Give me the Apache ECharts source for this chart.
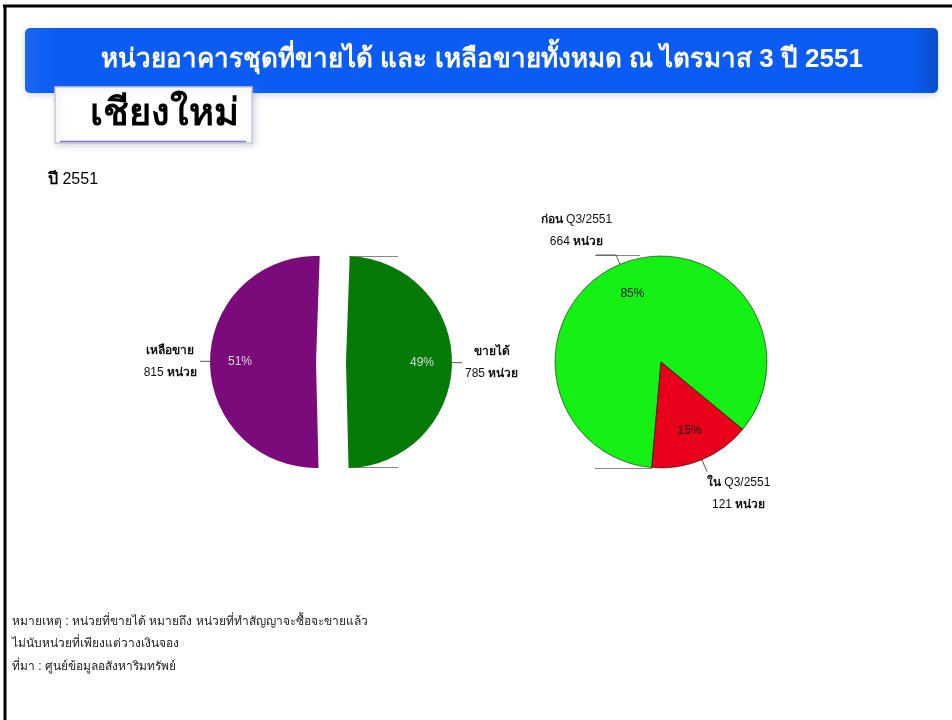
<!DOCTYPE html>
<html>
<head>
<meta charset="utf-8">
<script src="https://cdn.jsdelivr.net/npm/echarts@6/dist/echarts.min.js"></script>
<style>
  html, body { margin: 0; padding: 0; background: #ffffff; }
  #chart { width: 952px; height: 720px; }
</style>
</head>
<body>
<div id="chart"></div>
<script>
// ---- data ----
const titleText = 'หน่วยอาคารชุดที่ขายได้ และ เหลือขายทั้งหมด ณ ไตรมาส 3 ปี 2551';
const regionText = 'เชียงใหม่';
const yearText = 'ปี 2551';
const unitText = 'หน่วย';
const totalCats = ['ขายได้', 'เหลือขาย'];
const totalValues = [785, 815];
const soldCats = ['ก่อน Q3/2551', 'ใน Q3/2551'];
const soldValues = [664, 121];
const notes = [
  'หมายเหตุ : หน่วยที่ขายได้ หมายถึง หน่วยที่ทำสัญญาจะซื้อจะขายแล้ว',
  'ไม่นับหน่วยที่เพียงแต่วางเงินจอง',
  'ที่มา : ศูนย์ข้อมูลอสังหาริมทรัพย์'
];

// ---- styles ----
const totalColors = ['#067A06', '#7B0A7B'];
const soldColors = ['#14F014', '#E8001A'];
const FONT = '"Liberation Sans", "DejaVu Sans", "Noto Sans", sans-serif';

function richText(s) {
  return String(s).replace(/([\u0E00-\u0E7F]+)|([^\u0E00-\u0E7F]+)/g,
    (m, th, other) => th ? '{t|' + th + '}' : '{n|' + other + '}');
}
const labelRich = {
  t: { fontFamily: FONT, fontSize: 12, fontWeight: 'bold', color: '#111', align: 'center', lineHeight: 22 },
  n: { fontFamily: FONT, fontSize: 12, fontWeight: 'normal', color: '#111', align: 'center', lineHeight: 22 }
};
const outerFormatter = p => richText(p.name) + '\n' + richText(p.value + ' ' + unitText);

const totalData = totalCats.map((c, i) => ({
  name: c, value: totalValues[i], selected: true,
  itemStyle: { color: totalColors[i] }
}));
const soldData = soldCats.map((c, i) => ({
  name: c, value: soldValues[i],
  itemStyle: { color: soldColors[i] },
  labelLine: i === 0 ? { length: 10, length2: 20 } : { length: 13, length2: 0 }
}));

const leftCenter = [331, 362];
const rightCenter = [661, 362];
const R = 106;

const edgeLine = (x1, y1, x2, y2) => ({ type: 'line', z: -2, shape: { x1, y1, x2, y2 }, style: { stroke: '#888', lineWidth: 1 } });

const option = {
  backgroundColor: '#ffffff',
  animation: false,
  graphic: [
    { type: 'line', z: -5, shape: { x1: 3, y1: 6, x2: 952, y2: 6 }, style: { stroke: '#000', lineWidth: 3 } },
    { type: 'line', z: -5, shape: { x1: 5, y1: 5, x2: 5, y2: 720 }, style: { stroke: '#000', lineWidth: 3 } },
    { type: 'rect', z: -5, shape: { x: 25, y: 28, width: 913, height: 65, r: 5 },
      style: {
        fill: { type: 'linear', x: 0, y: 0, x2: 1, y2: 0, colorStops: [
          { offset: 0, color: '#1E66F0' }, { offset: 0.03, color: '#0A5CF5' },
          { offset: 0.97, color: '#0A5CF5' }, { offset: 1, color: '#0B4FC8' }] },
        shadowBlur: 6, shadowColor: 'rgba(120,140,200,0.35)', shadowOffsetY: 2
      } },
    { type: 'rect', z: -4, shape: { x: 55, y: 87, width: 197, height: 56 },
      style: { fill: '#ffffff', stroke: '#c8c8d0', lineWidth: 1.5,
        shadowBlur: 6, shadowColor: 'rgba(140,140,170,0.35)', shadowOffsetX: 2, shadowOffsetY: 2 } },
    { type: 'line', z: -3, shape: { x1: 60, y1: 141.5, x2: 246, y2: 141.5 }, style: { stroke: '#7c78e8', lineWidth: 1.5 } },
    edgeLine(349, 256.5, 398, 256.5),
    edgeLine(349, 467.5, 398, 467.5),
    edgeLine(595, 255.5, 640, 255.5),
    edgeLine(595, 468.5, 652, 468.5)
  ],
  title: [
    { text: titleText, left: 482, top: 47, textAlign: 'center', z: 10, padding: 0,
      textStyle: { fontFamily: FONT, fontSize: 26, fontWeight: 'bold', color: '#ffffff' } },
    { text: regionText, left: 164, top: 96, textAlign: 'center', z: 10, padding: 0,
      textStyle: { fontFamily: FONT, fontSize: 38, fontWeight: 'bold', color: '#000' } },
    { text: richText(yearText), left: 48, top: 172, z: 10, padding: 0,
      textStyle: { fontWeight: 'normal', rich: {
        t: { fontFamily: FONT, fontSize: 16, fontWeight: 'bold', color: '#000' },
        n: { fontFamily: FONT, fontSize: 16, fontWeight: 'normal', color: '#000' } } } },
    { text: notes.join('\n'), left: 12, top: 610, z: 10, padding: 0,
      textStyle: { fontFamily: FONT, fontSize: 12, fontWeight: 'normal', color: '#222', lineHeight: 22.5 } }
  ],
  series: [
    {
      type: 'pie', center: leftCenter, radius: R, startAngle: 88,
      selectedMode: 'multiple', selectedOffset: 15,
      silent: true, avoidLabelOverlap: false,
      data: totalData,
      label: { show: true, position: 'outside', formatter: outerFormatter, rich: labelRich, distanceToLabelLine: 3 },
      labelLine: { show: true, length: 5, length2: 5, lineStyle: { color: '#6a4a6a', width: 1 } },
      emphasis: { disabled: true }
    },
    {
      type: 'pie', center: leftCenter, radius: [40, R], startAngle: 88,
      selectedMode: 'multiple', selectedOffset: 15,
      silent: true, percentPrecision: 0,
      data: totalData.map(d => ({ name: d.name, value: d.value, selected: true })),
      itemStyle: { color: 'rgba(0,0,0,0)' },
      label: { show: true, position: 'inside', formatter: '{d}%', fontFamily: FONT, fontSize: 12, color: '#dcdcdc' },
      labelLine: { show: false },
      emphasis: { disabled: true }
    },
    {
      type: 'pie', center: rightCenter, radius: R, startAngle: 265,
      silent: true, avoidLabelOverlap: false,
      data: soldData,
      itemStyle: { borderColor: 'rgba(0,0,0,0.65)', borderWidth: 0.8 },
      label: { show: true, position: 'outside', formatter: outerFormatter, rich: labelRich, distanceToLabelLine: 1 },
      labelLine: { show: true, lineStyle: { color: '#555', width: 1 } },
      labelLayout: function (p) {
        const shift = p.dataIndex === 0 ? [17, -24] : [-1, 22];
        return { dx: shift[0], dy: shift[1], labelLinePoints: p.labelLinePoints };
      },
      emphasis: { disabled: true }
    },
    {
      type: 'pie', center: rightCenter, radius: [36, R], startAngle: 265,
      silent: true, percentPrecision: 0,
      data: soldCats.map((c, i) => ({ name: c, value: soldValues[i] })),
      itemStyle: { color: 'rgba(0,0,0,0)' },
      label: { show: true, position: 'inside', formatter: '{d}%', fontFamily: FONT, fontSize: 12, color: '#111' },
      labelLine: { show: false },
      emphasis: { disabled: true }
    }
  ]
};

const chart = echarts.init(document.getElementById('chart'), null, { renderer: 'canvas' });
chart.setOption(option);
</script>
</body>
</html>
